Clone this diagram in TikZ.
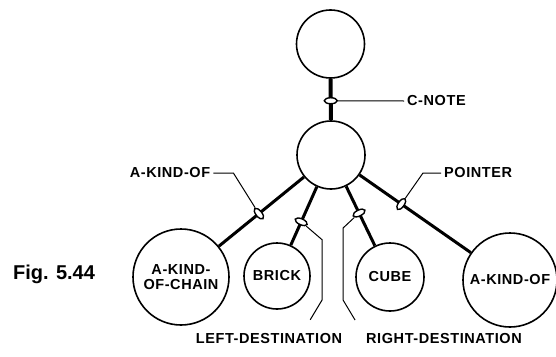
\documentclass[tikz,border=0pt]{standalone}
\usepackage{fontspec}
\setmainfont{Liberation Sans}
\newfontfamily\tagfont{Liberation Sans}[LetterSpace=4]
\usetikzlibrary{shapes.geometric}

\tikzset{
    frame/.style={draw, circle, line width=1.6pt, inner sep=0pt, align=center,
        font=\tagfont\bfseries\fontsize{14.5}{15}\selectfont},
    link/.style={line width=3pt},
    ring/.style={draw, ellipse, line width=1.4pt, fill=white, inner sep=0pt,
        minimum width=13pt, minimum height=6pt},
    tag/.style={line width=1pt},
    word/.style={inner sep=3pt, font=\tagfont\bfseries\fontsize{14.5}{15}\selectfont}
}

\begin{document}
\begin{tikzpicture}[x=1pt, y=-1pt]

    \useasboundingbox (0,0) rectangle (556,356);

    % the frames
    \node[frame, minimum size=68pt] (top) at (330.5,44) {};
    \node[frame, minimum size=68pt] (mid) at (331,155) {};
    \node[frame, minimum size=96pt] (chain) at (181,277) {A-KIND-\\OF-CHAIN};
    \node[frame, minimum size=66pt] (brick) at (277,276) {BRICK};
    \node[frame, minimum size=68pt] (cube) at (390,277) {CUBE};
    \node[frame, minimum size=94pt] (kind) at (510,280) {A-KIND-OF};

    % the links, each with its ring
    \draw[link, line width=4pt] (top) -- (mid) node[ring, pos=0.53] (r0) {};
    \draw[link] (mid) -- (chain) node[ring, pos=0.53, rotate=129] (r1) {};
    \draw[link] (mid) -- (brick) node[ring, pos=0.6, rotate=156] (r2) {};
    \draw[link] (mid) -- (cube) node[ring, pos=0.45, rotate=26] (r3) {};
    \draw[link] (mid) -- (kind) node[ring, pos=0.375, rotate=55] (r4) {};

    % labels
    \node[word, anchor=west] (cnote) at (404,101) {C-NOTE};
    \node[word] (lkind) at (170,173) {A-KIND-OF};
    \node[word, anchor=west] (ptr) at (441,173) {POINTER};
    \node[word] (ldest) at (269,339) {LEFT-DESTINATION};
    \node[word] (rdest) at (444,339) {RIGHT-DESTINATION};
    \node[inner sep=0pt, font=\bfseries\fontsize{20}{22}\selectfont] (fig) at (54,274) {Fig. 5.44};

    \draw[tag] (r0) -- (cnote.west);
    \draw[tag] (lkind.east) -- ++(20,0) -- (r1);
    \draw[tag] (ptr.west) -- ++(-18,0) -- (r4);
    \draw[tag] (r2) -- ++(21,18) -- ++(0,60) -- ++(-12,20) coordinate (lend);
    \draw[tag] (r3) -- ++(-16,15) -- ++(0,72) -- ++(12,20) coordinate (rend);

\end{tikzpicture}
\end{document}
